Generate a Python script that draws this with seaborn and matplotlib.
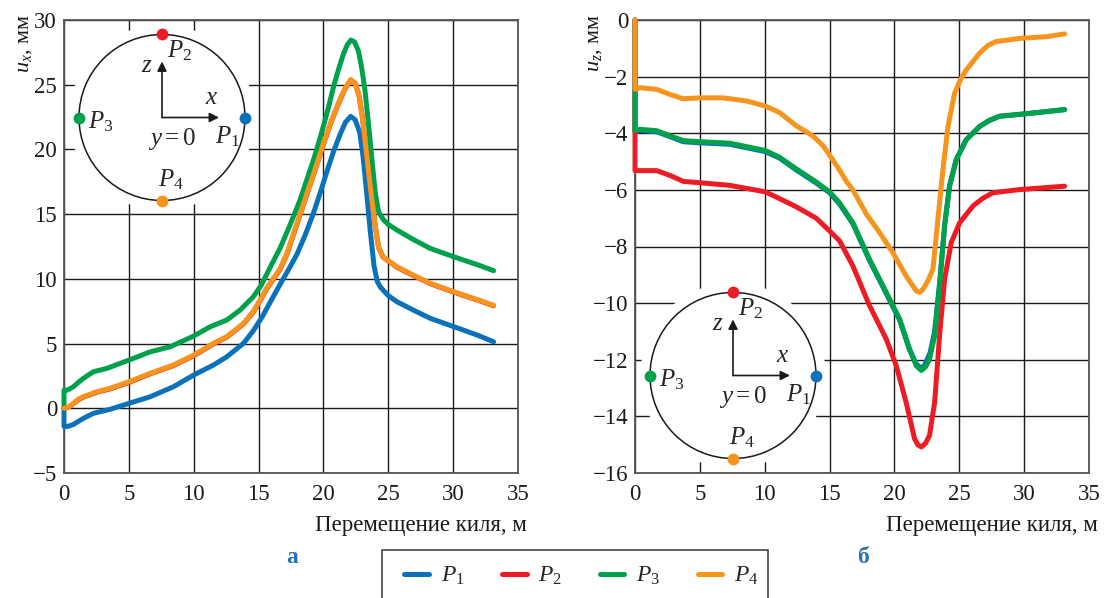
import numpy as np
import pandas as pd
import seaborn as sns
import matplotlib
matplotlib.use("Agg")
import matplotlib.pyplot as plt
from matplotlib.patches import Ellipse, Rectangle
from matplotlib.lines import Line2D

# ---------------- data ----------------
series_names = ["P1", "P2", "P3", "P4"]
series_labels = [r"$P_1$", r"$P_2$", r"$P_3$", r"$P_4$"]
series_colors = ["#0b72ba", "#ed1c24", "#00a14b", "#f7941d"]

# horizontal displacement u_x (mm) vs keel travel (m)
ux_p1_x = [0, 0, 0.3, 0.72, 1.49, 2.26, 3.55, 5.0, 6.64, 8.43, 10.0, 11.52, 12.55, 13.84, 14.6,
           15.3, 15.9, 16.67, 17.3, 17.96, 18.6, 19.24, 19.8, 20.27, 20.8, 21.3, 21.7, 22.1, 22.45,
           22.8, 23.05, 23.3, 23.6, 23.9, 24.15, 24.4, 25.0, 25.67, 27.0, 28.24, 29.5, 30.8, 32.0,
           33.12]
ux_p1_y = [0, -1.4, -1.4, -1.25, -0.78, -0.39, -0.08, 0.38, 0.89, 1.66, 2.57, 3.34, 3.98, 5.02, 6.0,
           7.1, 8.2, 9.6, 10.7, 11.9, 13.4, 15.1, 16.8, 18.3, 19.9, 21.2, 22.1, 22.55, 22.3,
           21.3, 19.5, 17.0, 13.8, 11.0, 9.8, 9.35, 8.7, 8.23, 7.55, 6.95, 6.5, 6.04, 5.6,
           5.14]

ux_p2_x = [0, 0.35, 0.72, 1.1, 1.49, 2.52, 3.55, 5.0, 6.64, 8.43, 10.0, 11.52, 12.55, 13.84, 14.6,
           15.2, 15.64, 16.67, 17.2, 17.7, 18.2, 18.73, 19.4, 20.0, 20.5, 21.04, 21.6, 22.1, 22.45,
           22.75, 23.0, 23.25, 23.5, 23.75, 24.0, 24.25, 24.6, 25.0, 25.67, 27.0, 28.24, 29.5, 30.8,
           32.0, 33.12]
ux_p2_y = [0, 0.08, 0.35, 0.66, 0.86, 1.24, 1.5, 2.0, 2.66, 3.3, 4.06, 4.98, 5.5, 6.52, 7.45,
           8.45, 9.25, 10.75, 11.95, 13.45, 14.95, 16.55, 18.55, 20.4, 21.85, 23.25, 24.55, 25.35, 25.1,
           24.15, 22.55, 20.35, 18.15, 16.05, 14.05, 12.45, 11.68, 11.38, 10.9, 10.22, 9.63, 9.17, 8.72,
           8.32, 7.92]

ux_p3_x = [0, 0, 0.25, 0.72, 1.1, 1.49, 2.26, 3.29, 5.0, 6.64, 8.18, 10.0, 11.27, 12.55, 13.58, 14.6,
           15.2, 15.9, 16.67, 17.4, 18.2, 18.7, 19.24, 19.6, 20.0, 20.4, 20.78, 21.2, 21.55, 21.85,
           22.12, 22.4, 22.7, 22.95, 23.2, 23.4, 23.6, 23.8, 24.0, 24.25, 24.6, 25.0, 25.67, 27.0,
           28.24, 29.5, 30.8, 32.0, 33.12]
ux_p3_y = [0, 1.4, 1.4, 1.66, 2.0, 2.31, 2.82, 3.08, 3.72, 4.36, 4.75, 5.58, 6.3, 6.82, 7.59, 8.62,
           9.5, 10.9, 12.4, 14.1, 16.1, 17.6, 19.2, 20.4, 21.8, 23.3, 24.85, 26.3, 27.4, 28.1,
           28.45, 28.3, 27.6, 26.3, 24.6, 22.7, 20.7, 18.6, 16.6, 15.2, 14.6, 14.2, 13.77, 13.0,
           12.35, 11.9, 11.45, 11.05, 10.63]

ux_p4_x = [0, 0.35, 0.72, 1.1, 1.49, 2.52, 3.55, 5.0, 6.64, 8.43, 10.0, 11.52, 12.55, 13.84, 14.6,
           15.2, 15.64, 16.67, 17.2, 17.7, 18.2, 18.73, 19.4, 20.0, 20.5, 21.04, 21.6, 22.1, 22.45,
           22.75, 23.0, 23.25, 23.5, 23.75, 24.0, 24.25, 24.6, 25.0, 25.67, 27.0, 28.24, 29.5, 30.8,
           32.0, 33.12]
ux_p4_y = [0, 0.1, 0.38, 0.7, 0.89, 1.27, 1.54, 2.05, 2.7, 3.34, 4.11, 5.02, 5.53, 6.56, 7.5,
           8.5, 9.3, 10.8, 12.0, 13.5, 15.0, 16.6, 18.6, 20.45, 21.9, 23.3, 24.6, 25.4, 25.1,
           24.1, 22.5, 20.3, 18.1, 16.0, 14.0, 12.4, 11.7, 11.4, 10.94, 10.25, 9.66, 9.2, 8.75,
           8.35, 7.95]

# vertical displacement u_z (mm) vs keel travel (m)
uz_p1_x = [0, 0, 0.38, 1.67, 2.7, 3.72, 5.05, 7.3, 10.05, 11.15, 12.44, 13.97, 15.0, 15.77, 16.8,
           18.08, 19.37, 20.4, 21.17, 21.68, 22.0, 22.3, 22.75, 23.1, 23.48, 23.87, 24.25, 24.77,
           25.54, 26.57, 27.3, 28.1, 30.17, 33.12]
uz_p1_y = [0, -3.95, -3.9, -3.95, -4.12, -4.3, -4.34, -4.39, -4.65, -4.88, -5.3, -5.76, -6.1,
           -6.5, -7.2, -8.5, -9.66, -10.6, -11.66, -12.15, -12.28, -12.22, -11.75, -11.0, -9.3,
           -7.25, -5.85, -4.92, -4.22, -3.76, -3.55, -3.4, -3.31, -3.16]

uz_p2_x = [0, 0, 0.38, 1.67, 2.7, 3.72, 5.05, 7.3, 10.05, 11.15, 12.44, 13.97, 15.0, 15.77, 16.8,
           18.08, 19.37, 20.14, 20.9, 21.55, 21.8, 22.07, 22.4, 22.71, 23.1, 23.48, 23.87, 24.38,
           25.03, 26.05, 26.8, 27.6, 29.65, 33.12]
uz_p2_y = [0, -5.32, -5.32, -5.32, -5.49, -5.7, -5.75, -5.84, -6.07, -6.31, -6.6, -7.0, -7.45,
           -7.8, -8.69, -10.09, -11.27, -12.21, -13.5, -14.79, -15.0, -15.08, -14.95, -14.67,
           -13.5, -11.15, -9.15, -7.86, -7.16, -6.57, -6.3, -6.1, -5.99, -5.87]

uz_p3_x = [0, 0, 0.38, 1.67, 2.7, 3.72, 5.05, 7.3, 10.05, 11.15, 12.44, 13.97, 15.0, 15.77, 16.8,
           18.08, 19.37, 20.4, 21.17, 21.68, 22.07, 22.4, 22.71, 23.1, 23.48, 23.87, 24.25, 24.77,
           25.54, 26.57, 27.3, 28.1, 30.17, 33.12]
uz_p3_y = [0, -3.9, -3.86, -3.91, -4.09, -4.26, -4.3, -4.35, -4.61, -4.85, -5.26, -5.72, -6.07,
           -6.46, -7.16, -8.45, -9.62, -10.56, -11.62, -12.21, -12.38, -12.25, -11.97, -11.15,
           -9.39, -7.28, -5.87, -4.93, -4.23, -3.76, -3.55, -3.4, -3.31, -3.17]

uz_p4_x = [0, 0, 0.38, 1.67, 2.7, 3.72, 5.05, 6.8, 8.6, 10.05, 11.15, 12.44, 13.7, 14.5, 15.26,
           15.77, 16.3, 16.8, 17.83, 18.86, 19.88, 20.9, 21.68, 21.95, 22.2, 22.6, 22.97, 23.35,
           23.74, 24.13, 24.64, 25.1, 25.54, 26.57, 27.2, 27.85, 29.65, 31.7, 33.12]
uz_p4_y = [0, -2.45, -2.39, -2.45, -2.63, -2.78, -2.75, -2.75, -2.86, -3.04, -3.27, -3.74, -4.09,
           -4.44, -4.95, -5.3, -5.7, -6.0, -6.85, -7.51, -8.22, -9.04, -9.57, -9.62, -9.51, -9.2,
           -8.8, -7.04, -5.28, -3.76, -2.58, -2.1, -1.76, -1.17, -0.9, -0.76, -0.65, -0.59, -0.49]

x_ticks = [0, 5, 10, 15, 20, 25, 30, 35]
ux_ticks = [-5, 0, 5, 10, 15, 20, 25, 30]
uz_ticks = [0, -2, -4, -6, -8, -10, -12, -14, -16]
x_label = "Перемещение киля, м"
ux_label = r"$u_x$, мм"
uz_label = r"$u_z$, мм"
panel_tags = ["а", "б"]


def to_frame(pairs):
    rows = []
    for name, (xs, ys) in zip(series_names, pairs):
        rows.append(pd.DataFrame({"s": xs, "u": ys, "point": name}))
    return pd.concat(rows, ignore_index=True)


ux_df = to_frame([(ux_p1_x, ux_p1_y), (ux_p2_x, ux_p2_y), (ux_p3_x, ux_p3_y), (ux_p4_x, ux_p4_y)])
uz_df = to_frame([(uz_p1_x, uz_p1_y), (uz_p2_x, uz_p2_y), (uz_p3_x, uz_p3_y), (uz_p4_x, uz_p4_y)])

# ---------------- style ----------------
sns.set_style("white")
plt.rcParams["font.family"] = ["Liberation Serif", "DejaVu Serif"]
plt.rcParams["mathtext.fontset"] = "custom"
plt.rcParams["mathtext.rm"] = "Liberation Serif"
plt.rcParams["mathtext.it"] = "Liberation Serif:italic"
plt.rcParams["axes.unicode_minus"] = True

W, H = 1106, 598
fig = plt.figure(figsize=(W / 100, H / 100), dpi=100)
ax_l = fig.add_axes([64 / W, 1 - 473 / H, 454 / W, 453 / H])
ax_r = fig.add_axes([635 / W, 1 - 473 / H, 454 / W, 453 / H])

palette = dict(zip(series_names, series_colors))
TICK_FS = 16.5
LINE_W = 3.6
INK = "#1a1a1a"


def style_axes(ax, yticks, ylim, ylabel, tag):
    ax.set_xlim(0, 35)
    ax.set_ylim(*ylim)
    ax.set_xticks(x_ticks)
    ax.set_yticks(yticks)
    ax.grid(True, color=INK, linewidth=1.0, zorder=0)
    ax.set_axisbelow(True)
    ax.tick_params(axis="x", length=0, labelsize=TICK_FS, pad=8, colors=INK)
    ax.tick_params(axis="y", length=0, labelsize=TICK_FS, pad=5, colors=INK)
    for sp in ax.spines.values():
        sp.set_color("#555555")
        sp.set_linewidth(1.3)
    ax.set_xlabel("")
    ax.set_ylabel("")
    ax.text(1.0 + 9 / 454, -53 / 453, x_label, transform=ax.transAxes, ha="right", va="center",
            fontsize=16.5, color=INK)
    ax.text(-40 / 454, 1.0 + 6 / 453, ylabel, transform=ax.transAxes, rotation=90, ha="center",
            va="top", fontsize=16, color=INK)
    ax.text(228 / 454, -90 / 453, tag, transform=ax.transAxes,
            ha="center", va="baseline", fontsize=17, fontweight="bold", color="#2a72b8")


def draw_scheme(ax, cy):
    """Cross-section sketch with the four measuring points."""
    cx = 98 / 454
    rx, ry = 83 / 454, 83 / 453
    t = ax.transAxes
    # white halo hides the grid under the sketch
    ax.add_patch(Ellipse((cx, cy), 2 * rx, 2 * ry, transform=t, facecolor="white",
                         edgecolor="white", linewidth=14, zorder=3))
    ax.add_patch(Ellipse((cx, cy), 2 * rx, 2 * ry, transform=t, facecolor="none",
                         edgecolor=INK, linewidth=1.1, zorder=4))

    def px(dx, dy):
        return cx + dx / 454, cy - dy / 453

    for tip in [(0, -56), (57, 0)]:
        ax.annotate("", xy=px(*tip), xytext=px(0, 0), xycoords=t, textcoords=t,
                    arrowprops=dict(arrowstyle="-|>", color=INK, lw=1.2,
                                    mutation_scale=14, shrinkA=0, shrinkB=0), zorder=5)
    fs = 18
    ax.text(*px(-15, -51), r"$z$", transform=t, ha="center", va="center", fontsize=fs, zorder=5)
    ax.text(*px(50, -19), r"$x$", transform=t, ha="center", va="center", fontsize=fs, zorder=5)
    ax.text(*px(10, 21), r"$y = 0$", transform=t, ha="center", va="center", fontsize=fs, zorder=5)

    dots = [(83, 0), (0, -83.5), (-83, 0), (0, 83.5)]
    label_pos = [(53, 19), (5, -67), (-74, 4), (-4, 62)]
    for (dx, dy), (lx, ly), lab, col in zip(dots, label_pos, series_labels, series_colors):
        ax.plot(*px(dx, dy), marker="o", markersize=8.5, color=col, markeredgewidth=0,
                transform=t, zorder=6, clip_on=False)
        ax.text(*px(lx, ly), lab, transform=t, ha="left", va="center", fontsize=fs, zorder=5)


for ax, df in [(ax_l, ux_df), (ax_r, uz_df)]:
    sns.lineplot(data=df, x="s", y="u", hue="point", palette=palette, hue_order=series_names,
                 sort=False, estimator=None, linewidth=LINE_W, legend=False, ax=ax, zorder=7)
    for line in ax.get_lines():
        line.set_solid_capstyle("round")
        line.set_solid_joinstyle("round")
        line.set_clip_on(False)

style_axes(ax_l, ux_ticks, (-5, 30), ux_label, panel_tags[0])
style_axes(ax_r, uz_ticks, (-16, 0), uz_label, panel_tags[1])
draw_scheme(ax_l, 1 - 97.5 / 453)
draw_scheme(ax_r, 1 - 355.5 / 453)

# legend with a plain frame that runs off the bottom edge
fig.add_artist(Rectangle((382 / W, -0.05), (768 - 382) / W, 0.05 + 1 - 550 / H,
                         transform=fig.transFigure, facecolor="white", edgecolor="#444444",
                         linewidth=1.2, zorder=1))
handles = [Line2D([0], [0], color=c, lw=LINE_W, solid_capstyle="round") for c in series_colors]
leg = fig.legend(handles, series_labels, loc="center left", bbox_to_anchor=(404 / W, 1 - 576 / H),
                 ncol=4, frameon=False, fontsize=17, handlelength=1.05,
                 handletextpad=0.5, columnspacing=1.58, borderpad=0, borderaxespad=0)
leg.set_zorder(2)

fig.savefig("out.png", dpi=100)
